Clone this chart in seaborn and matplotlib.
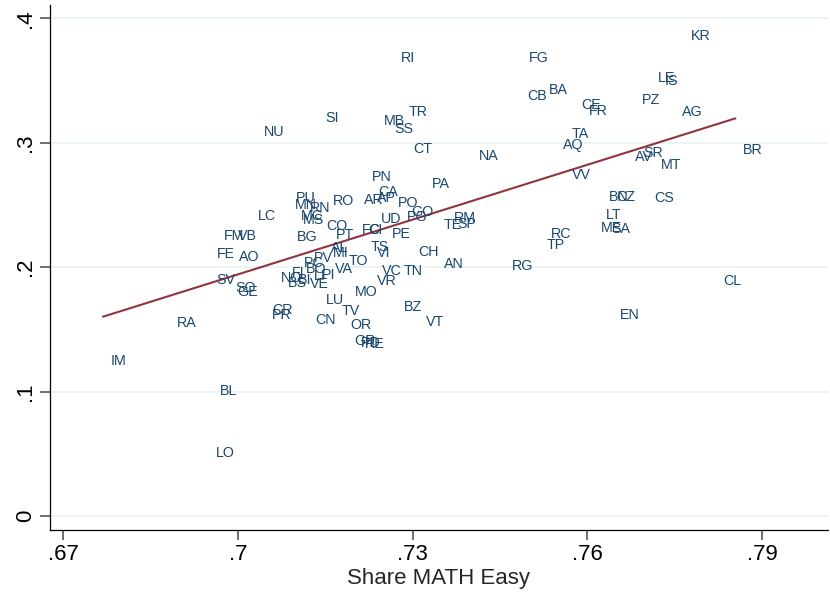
import matplotlib
matplotlib.use("Agg")
import matplotlib.pyplot as plt
import numpy as np
import pandas as pd
import seaborn as sns

# Italian provinces: share of easy math items vs. outcome
provinces = [
    "KR", "RI", "FG", "LE", "IS", "BA", "CB", "PZ", "CE", "FR",
    "AG", "SI", "TR", "MB", "SS", "NU", "TA", "AQ", "CT", "NA",
    "BR", "SR", "AV", "MT", "VV", "PN", "PA", "CA", "AP", "AR",
    "PO", "GO", "PG", "UD", "RM", "SP", "TE", "FC", "CI", "PE",
    "TS", "VI", "CH", "AN", "RG", "RC", "TP", "ME", "SA", "LT",
    "BN", "CZ", "CS", "EN", "CL", "BZ", "VT", "TN", "VC", "VR",
    "MO", "OR", "TV", "LU", "CN", "GR", "PD", "RE", "CR", "PR",
    "TO", "VA", "PV", "AL", "MI", "PT", "CO", "BG", "RO", "PU",
    "MN", "RN", "MC", "MS", "LC", "FM", "VB", "FE", "AO", "SV",
    "SO", "GE", "RA", "IM", "BL", "LO", "PC", "BO", "NO", "FI",
    "BS", "BI", "VE", "LI", "PI",
]
share_math_easy = [
    0.7765, 0.7266, 0.7486, 0.7708, 0.7720, 0.7521, 0.7484, 0.7680, 0.7577, 0.7589,
    0.7749, 0.7136, 0.7280, 0.7237, 0.7256, 0.7031, 0.7560, 0.7545, 0.7287, 0.7400,
    0.7854, 0.7682, 0.7668, 0.7713, 0.7560, 0.7216, 0.7320, 0.7228, 0.7225, 0.7203,
    0.7261, 0.7285, 0.7277, 0.7232, 0.7357, 0.7364, 0.7340, 0.7199, 0.7211, 0.7251,
    0.7215, 0.7225, 0.7296, 0.7340, 0.7457, 0.7524, 0.7517, 0.7610, 0.7627, 0.7618,
    0.7624, 0.7636, 0.7701, 0.7643, 0.7820, 0.7271, 0.7309, 0.7271, 0.7234, 0.7225,
    0.7187, 0.7180, 0.7165, 0.7137, 0.7119, 0.7186, 0.7198, 0.7204, 0.7045, 0.7045,
    0.7177, 0.7153, 0.7117, 0.7146, 0.7149, 0.7155, 0.7139, 0.7088, 0.7149, 0.7086,
    0.7084, 0.7110, 0.7094, 0.7098, 0.7021, 0.6962, 0.6986, 0.6950, 0.6988, 0.6950,
    0.6983, 0.6985, 0.6881, 0.6768, 0.6955, 0.6948, 0.7100, 0.7103, 0.7060, 0.7079,
    0.7072, 0.7089, 0.7110, 0.7117, 0.7131,
]
outcome = [
    0.3875, 0.3698, 0.3698, 0.3538, 0.3513, 0.3441, 0.3393, 0.3361, 0.3321, 0.3272,
    0.3264, 0.3216, 0.3264, 0.3192, 0.3128, 0.3103, 0.3087, 0.2999, 0.2967, 0.2910,
    0.2959, 0.2935, 0.2902, 0.2838, 0.2758, 0.2742, 0.2685, 0.2621, 0.2573, 0.2557,
    0.2533, 0.2460, 0.2420, 0.2404, 0.2412, 0.2364, 0.2356, 0.2316, 0.2316, 0.2283,
    0.2179, 0.2131, 0.2139, 0.2042, 0.2026, 0.2283, 0.2195, 0.2332, 0.2324, 0.2436,
    0.2581, 0.2581, 0.2573, 0.1632, 0.1905, 0.1696, 0.1576, 0.1986, 0.1986, 0.1905,
    0.1817, 0.1552, 0.1664, 0.1753, 0.1592, 0.1423, 0.1407, 0.1399, 0.1672, 0.1632,
    0.2066, 0.2002, 0.2090, 0.2171, 0.2131, 0.2275, 0.2348, 0.2259, 0.2549, 0.2573,
    0.2517, 0.2492, 0.2428, 0.2396, 0.2428, 0.2267, 0.2267, 0.2123, 0.2098, 0.1914,
    0.1849, 0.1817, 0.1568, 0.1262, 0.1021, 0.0523, 0.2050, 0.2002, 0.1930, 0.1970,
    0.1889, 0.1914, 0.1881, 0.1946, 0.1954,
]

x_ticks = [0.67, 0.70, 0.73, 0.76, 0.79]
x_tick_labels = [".67", ".7", ".73", ".76", ".79"]
y_ticks = [0.0, 0.1, 0.2, 0.3, 0.4]
y_tick_labels = ["0", ".1", ".2", ".3", ".4"]

df = pd.DataFrame({"prov": provinces, "x": share_math_easy, "y": outcome})

sns.set_style("white")
plt.rcParams["font.family"] = ["Liberation Sans", "DejaVu Sans"]

label_color = "#1a476f"
fit_color = "#90353b"
grid_color = "#eaf2f3"

fig = plt.figure(figsize=(8.30, 5.93), dpi=100)
ax = fig.add_axes([0.0602, 0.1062, 0.9374, 0.8854])

ax.set_xlim(0.6677, 0.8013)
ax.set_ylim(-0.01125, 0.4108)

for yt in y_ticks:
    ax.axhline(yt, color=grid_color, lw=1.3, zorder=0)

# province codes stand in for markers, placed to the right of each point
for _, r in df.iterrows():
    ax.annotate(r["prov"], (r["x"], r["y"]), xytext=(5.5, -1.2),
                textcoords="offset points", ha="left", va="center",
                fontsize=10.3, color=label_color, zorder=3)

sns.regplot(data=df, x="x", y="y", ax=ax, scatter=False, ci=None,
            truncate=True, line_kws=dict(color=fit_color, lw=1.5, zorder=2))

ax.set_xticks(x_ticks)
ax.set_xticklabels(x_tick_labels, fontsize=16)
ax.set_yticks(y_ticks)
ax.set_yticklabels(y_tick_labels, fontsize=16, rotation=90, va="center")
ax.set_xlabel("Share MATH Easy", fontsize=16, labelpad=2)
ax.set_ylabel("")

for side in ["top", "right"]:
    ax.spines[side].set_visible(False)
for side in ["left", "bottom"]:
    ax.spines[side].set_color("black")
    ax.spines[side].set_linewidth(0.9)

ax.tick_params(axis="both", which="major", length=7, width=1.2,
               color="#555555", direction="out", bottom=True, left=True,
               pad=3, labelcolor="black")

fig.savefig("out.png", dpi=100, facecolor="white")
